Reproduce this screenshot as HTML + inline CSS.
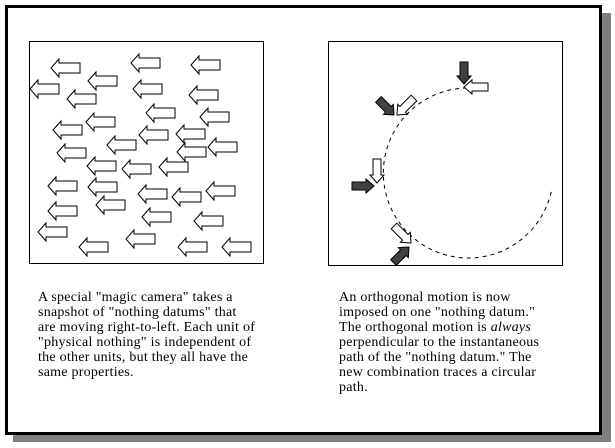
<!DOCTYPE html>
<html><head><meta charset="utf-8"><style>
html,body{margin:0;padding:0;background:#fff;}
body{width:615px;height:448px;position:relative;overflow:hidden;font-family:"Liberation Serif",serif;}
.t{position:absolute;font-size:14px;letter-spacing:0.25px;line-height:15px;color:#000;white-space:nowrap;}
</style></head><body>
<svg width="615" height="448" style="position:absolute;left:0;top:0">
<defs>
<polygon id="w" points="0,0 8,-9 8,-5 29,-5 29,5 8,5 8,9" fill="#fff" stroke="#000" stroke-width="1"/>
<polygon id="ws" points="0,0 8,-7 8,-4 24,-4 24,4 8,4 8,7" fill="#fff" stroke="#000" stroke-width="1"/>
<polygon id="bs" points="0,0 -8,-7 -8,-4 -22,-4 -22,4 -8,4 -8,7" fill="#404040" stroke="#000" stroke-width="1"/>
</defs>
<rect x="13" y="13" width="598" height="429" fill="#808080"/>
<rect x="6.5" y="6.5" width="594" height="427" fill="#fff" stroke="#000" stroke-width="3"/>
<rect x="29.5" y="41.5" width="234" height="222" fill="#fff" stroke="#000"/>
<rect x="328.5" y="41.5" width="234" height="224" fill="#fff" stroke="#000"/>
<g>
<use href="#w" x="51" y="68"/><use href="#w" x="131" y="63"/><use href="#w" x="191" y="65"/>
<use href="#w" x="88" y="81"/><use href="#w" x="30" y="89"/><use href="#w" x="133" y="89"/>
<use href="#w" x="67" y="99"/><use href="#w" x="189" y="95"/><use href="#w" x="146" y="113"/>
<use href="#w" x="86" y="122"/><use href="#w" x="200" y="117"/><use href="#w" x="53" y="130"/>
<use href="#w" x="139" y="135"/><use href="#w" x="176" y="134"/><use href="#w" x="107" y="145"/>
<use href="#w" x="57" y="153"/><use href="#w" x="177" y="152"/><use href="#w" x="208" y="147"/>
<use href="#w" x="87" y="166"/><use href="#w" x="122" y="169"/><use href="#w" x="159" y="167"/>
<use href="#w" x="48" y="186"/><use href="#w" x="88" y="187"/><use href="#w" x="138" y="194"/>
<use href="#w" x="172" y="197"/><use href="#w" x="206" y="191"/><use href="#w" x="96" y="205"/>
<use href="#w" x="48" y="211"/><use href="#w" x="142" y="217"/><use href="#w" x="194" y="221"/>
<use href="#w" x="38" y="232"/><use href="#w" x="126" y="239"/><use href="#w" x="79" y="247"/>
<use href="#w" x="178" y="247"/><use href="#w" x="222" y="247"/>
</g>
<path d="M467,88 A85,85 0 1 0 552,188" fill="none" stroke="#000" stroke-width="1" stroke-dasharray="4,4"/>
<use href="#ws" transform="translate(464,87)"/>
<use href="#bs" transform="translate(464,84) rotate(90)"/>
<use href="#ws" transform="translate(397,115) rotate(-45)"/>
<use href="#bs" transform="translate(394,115) rotate(45)"/>
<use href="#ws" transform="translate(377,183) rotate(-90)"/>
<use href="#bs" transform="translate(374,186)"/>
<use href="#ws" transform="translate(411,243) rotate(-135)"/>
<use href="#bs" transform="translate(409,247) rotate(-45)"/>
</svg>
<div class="t" style="left:38px;top:290px">A special "magic camera" takes a<br>snapshot of "nothing datums" that<br>are moving right-to-left. Each unit of<br>"physical nothing" is independent of<br>the other units, but they all have the<br>same properties.</div>
<div class="t" style="left:339px;top:290px">An orthogonal motion is now<br>imposed on one "nothing datum."<br>The orthogonal motion is <i>always</i><br>perpendicular to the instantaneous<br>path of the "nothing datum." The<br>new combination traces a circular<br>path.</div>
</body></html>
